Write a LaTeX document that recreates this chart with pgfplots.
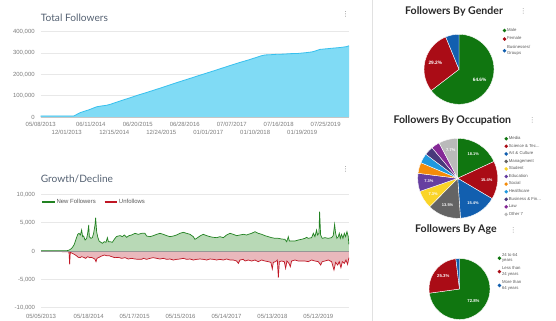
\documentclass[border=0pt]{standalone}
\usepackage{pgfplots}
\pgfplotsset{compat=1.18}
\usepackage{pgfplotstable}
\usepackage{fontspec}
\setmainfont{Liberation Sans}
\newfontfamily\latofont{Lato}
\newfontfamily\symfont{DejaVu Sans}

\definecolor{tfill}{RGB}{128,219,245}
\definecolor{tline}{RGB}{55,192,238}
\definecolor{gline}{RGB}{34,130,34}
\definecolor{gfill}{RGB}{184,217,182}
\definecolor{rline}{RGB}{192,22,36}
\definecolor{rfill}{RGB}{233,184,188}
\definecolor{gridc}{RGB}{232,232,232}
\definecolor{zeroc}{RGB}{150,150,150}
\definecolor{ticktext}{RGB}{125,125,125}
\definecolor{titlec}{RGB}{85,98,115}
\definecolor{legtext}{RGB}{90,90,90}
\definecolor{sepc}{RGB}{225,225,225}
\definecolor{piet}{RGB}{40,40,40}
\definecolor{pgreen}{RGB}{16,118,16}
\definecolor{pred}{RGB}{170,12,22}
\definecolor{pblue}{RGB}{18,95,175}
\definecolor{pgray}{RGB}{100,100,100}
\definecolor{pyellow}{RGB}{250,212,40}
\definecolor{ppurple}{RGB}{102,62,160}
\definecolor{porange}{RGB}{245,140,10}
\definecolor{plblue}{RGB}{30,152,222}
\definecolor{pnavy}{RGB}{72,56,122}
\definecolor{pmag}{RGB}{132,40,150}
\definecolor{plgray}{RGB}{186,186,186}

\pgfplotstableread{
day total
3 5000
268 5000
290 12000
316 20000
350 27000
383 33000
410 39000
436 45000
449 48000
490 52000
528 55000
560 60000
595 67000
650 78000
714 90000
780 103000
847 115000
910 127000
979 140000
1050 154000
1112 166000
1192 181000
1271 196000
1325 206000
1400 220000
1457 231000
1520 243000
1590 256000
1660 268000
1723 280000
1760 287000
1789 291000
1830 292000
1882 294000
1940 295000
1988 297000
2050 298000
2121 302000
2160 305000
2187 309000
2205 313000
2227 317000
2280 320000
2333 323000
2390 326000
2439 330000
2458 334000
}\totaltable

\pgfplotstableread{
day new
0 60
100 60
180 50
205 60
217 118
230 250
243 470
254 800
264 1176
280 2235
291 2941
301 3118
312 2824
322 3706
330 2529
338 2647
349 1941
362 2235
370 3118
378 4588
383 2529
396 2235
407 2353
417 3118
428 4588
433 5882
441 3412
449 2529
460 1765
475 1529
486 1353
502 1647
515 1529
526 2353
534 1647
547 1647
565 1529
581 2059
597 2529
613 2647
629 2706
644 2529
660 2824
679 2412
697 2706
718 2824
745 3118
771 2941
798 3118
824 3118
837 2647
864 2529
890 2706
917 2941
943 3118
969 2941
996 2706
1022 2529
1049 2647
1075 2824
1101 3118
1128 3294
1154 3118
1181 2941
1207 2529
1220 2059
1233 2235
1260 2647
1286 2941
1313 2706
1339 2529
1366 2412
1392 2353
1418 2529
1445 2353
1471 2824
1498 3118
1524 2941
1550 2706
1577 2824
1603 2941
1630 2824
1643 2941
1669 3118
1696 3412
1722 3118
1749 2941
1775 2706
1801 2529
1828 2353
1854 2235
1881 2235
1907 2118
1933 2059
1947 1647
1960 2529
1968 1765
1986 1765
2013 1765
2039 1941
2065 2059
2092 2235
2105 2412
2118 2235
2145 2353
2158 3118
2171 2529
2184 3706
2192 2824
2203 3118
2208 6941
2216 2824
2229 2235
2250 2353
2277 2235
2303 2353
2316 2706
2327 4706
2335 3118
2345 2235
2356 2529
2364 3118
2372 2235
2382 2941
2393 2235
2404 3118
2414 2529
2425 3412
2435 2529
2440 1176
}\newtable

\pgfplotstableread{
day unf
0 -100
212 -118
222 -200
227 -2353
232 -235
248 -412
264 -588
280 -824
296 -1118
309 -1176
322 -1000
338 -1118
354 -1294
370 -1000
386 -1176
401 -1118
417 -1294
428 -1471
436 -1882
444 -1294
460 -1118
481 -882
502 -706
520 -824
539 -824
560 -1000
586 -1176
613 -1118
639 -1294
666 -1176
692 -1412
718 -1294
745 -1412
771 -1471
798 -1471
811 -1294
837 -1471
864 -1294
890 -1176
917 -1294
943 -1412
969 -1294
996 -1471
1022 -1412
1049 -1588
1075 -1471
1101 -1412
1128 -1294
1154 -1471
1181 -1412
1207 -1588
1233 -1471
1260 -1412
1286 -1471
1313 -1588
1339 -1412
1366 -1471
1392 -1588
1418 -1471
1445 -1588
1471 -1412
1498 -1588
1524 -1588
1550 -1765
1564 -2176
1577 -1588
1603 -1471
1617 -1765
1643 -1588
1669 -1765
1696 -1588
1722 -1882
1749 -1588
1775 -1765
1801 -1882
1822 -2000
1833 -3176
1841 -2000
1859 -1882
1873 -1588
1881 -4706
1889 -1882
1907 -1765
1928 -1882
1939 -3059
1949 -1765
1965 -2176
1976 -2765
1986 -1765
2013 -1588
2039 -1765
2065 -1765
2092 -1765
2118 -1882
2145 -1588
2171 -1765
2198 -1882
2216 -2471
2229 -1882
2250 -1765
2277 -1588
2303 -1882
2322 -3353
2335 -2000
2351 -2471
2364 -1882
2377 -2941
2388 -1882
2404 -2176
2417 -1588
2430 -2353
2440 -1176
}\unftable

\pgfplotsset{
  pielegend/.style={
    legend style={anchor=north west, draw=none, fill=none,
      font=\fontsize{4.3}{5.4}\selectfont, text=legtext, inner sep=0pt,
      row sep=1.2bp, cells={anchor=west}, nodes={inner sep=0.7bp}},
    legend image code/.code={\fill[##1, draw=none] (1bp,0bp) circle (1.9bp);},
  },
}

\begin{document}
\begin{tikzpicture}
\path[use as bounding box, fill=white] (0bp,0bp) rectangle (556bp,-321bp);
\draw[sepc, line width=0.8bp] (372bp,0bp) -- (372bp,-321bp);

% ---------- Total Followers ----------
\node[anchor=west, inner sep=0pt, text=titlec, font=\latofont\fontsize{10.2}{12}\selectfont] at (40.7bp,-17.3bp) {Total Followers};
\node[inner sep=0pt, text=gray, font=\symfont\fontsize{7}{8}\selectfont] at (345.5bp,-14bp) {⋮};
\begin{axis}[
  at={(40.7bp,-117bp)}, anchor=south west, scale only axis,
  width=308.3bp, height=85.3bp,
  xmin=3, xmax=2458, ymin=0, ymax=400000,
  axis line style={draw=none}, major tick length=0pt,
  ymajorgrids, grid style={gridc, line width=0.6bp},
  ytick={0,100000,200000,300000,400000},
  yticklabels={{0},{100,000},{200,000},{300,000},{400,000}},
  xtick={3,402,776,1150,1524,1898,2272},
  xticklabels={05/08/2013,06/11/2014,06/20/2015,06/28/2016,07/07/2017,07/16/2018,07/25/2019},
  extra x ticks={210,589,963,1337,1711,2085},
  extra x tick labels={12/01/2013,12/15/2014,12/24/2015,01/01/2017,01/10/2018,01/19/2019},
  extra x tick style={major tick length=0pt, xticklabel style={yshift=-8.4bp}},
  tick label style={font=\fontsize{6}{7}\selectfont, text=ticktext},
  yticklabel style={xshift=-2.5bp},
  xticklabel style={yshift=-1.5bp},
  scaled y ticks=false,
]
\addplot[draw=none, fill=tfill] table[x=day, y=total] {\totaltable} \closedcycle;
\addplot[tline, line width=0.8bp] table[x=day, y=total] {\totaltable};
\draw[gray!45, line width=0.7bp] (rel axis cs:0,0) -- (rel axis cs:1,0);
\end{axis}

% ---------- Growth / Decline ----------
\node[anchor=west, inner sep=0pt, text=titlec, font=\latofont\fontsize{10.2}{12}\selectfont] at (40.7bp,-179.3bp) {Growth/Decline};
\node[inner sep=0pt, text=gray, font=\symfont\fontsize{7}{8}\selectfont] at (345.5bp,-169bp) {⋮};
\begin{axis}[
  at={(41bp,-307.7bp)}, anchor=south west, scale only axis,
  width=308bp, height=113.4bp,
  xmin=0, xmax=2441, ymin=-10000, ymax=10000,
  axis line style={draw=none}, major tick length=0pt,
  ymajorgrids, grid style={gridc, line width=0.6bp},
  ytick={-10000,-5000,0,5000,10000},
  yticklabels={{-10,000},{-5,000},{0},{5,000},{10,000}},
  xtick={0,378,742,1106,1470,1834,2198},
  xticklabels={05/05/2013,05/18/2014,05/17/2015,05/15/2016,05/14/2017,05/13/2018,05/12/2019},
  tick label style={font=\fontsize{6}{7}\selectfont, text=ticktext},
  yticklabel style={xshift=-2.5bp},
  xticklabel style={yshift=-2.5bp},
  scaled y ticks=false,
  legend style={at={(0,0.967)}, anchor=north west, draw=none, fill=none,
    font=\fontsize{6}{7}\selectfont, text=legtext, inner sep=0pt,
    nodes={inner sep=0.8bp}, /tikz/every even column/.append style={column sep=7bp}},
  legend columns=2,
  legend image code/.code={\draw[#1, line width=2bp] (0bp,0bp) -- (12.6bp,0bp);},
]
\addplot[draw=none, fill=gfill, forget plot] table[x=day, y=new] {\newtable} \closedcycle;
\addplot[draw=none, fill=rfill, forget plot] table[x=day, y=unf] {\unftable} \closedcycle;
\addplot[gline, line width=0.7bp] table[x=day, y=new] {\newtable};
\addlegendentry{New Followers}
\addplot[rline, line width=0.7bp] table[x=day, y=unf] {\unftable};
\addlegendentry{Unfollows}
\draw[zeroc, line width=0.6bp] (axis cs:0,0) -- (axis cs:2441,0);
\end{axis}

% ---------- Followers By Gender ----------
\node[anchor=west, inner sep=0pt, text=piet, font=\latofont\bfseries\fontsize{10.6}{12}\selectfont] at (405bp,-11.7bp) {Followers By Gender};
\node[inner sep=0pt, text=gray!80, font=\symfont\fontsize{7}{8}\selectfont] at (523.3bp,-11.7bp) {⋮};
\begin{axis}[
  at={(459bp,-69.3bp)}, anchor=center, scale only axis,
  width=70bp, height=70bp, xmin=-1, xmax=1, ymin=-1, ymax=1, hide axis,
  pielegend, legend style={at={(1.12,1.1)}, row sep=2.6bp},
]
\addlegendimage{color=pgreen, fill=pgreen}\addlegendentry{Male}
\addlegendimage{color=pred, fill=pred}\addlegendentry{Female}
\addlegendimage{color=pblue, fill=pblue}\addlegendentry{\shortstack[l]{Businesses/\\Groups}}
\fill[pgreen, draw=white, line width=0.4bp] (axis cs:0,0) -- ++(90:35bp) arc[start angle=90, end angle={90-3.6*64.6}, radius=35bp] -- cycle;
\fill[pred, draw=white, line width=0.4bp] (axis cs:0,0) -- ++({90-3.6*64.6}:35bp) arc[start angle={90-3.6*64.6}, end angle={90-3.6*(64.6+29.2)}, radius=35bp] -- cycle;
\fill[pblue, draw=white, line width=0.4bp] (axis cs:0,0) -- ++({90-3.6*93.8}:35bp) arc[start angle={90-3.6*93.8}, end angle={90-3.6*100}, radius=35bp] -- cycle;
\path (axis cs:0,0) ++({90-3.6*32.3}:23bp) node[text=white, font=\bfseries\fontsize{4.8}{5}\selectfont] {64.6\%};
\path (axis cs:0,0) ++({90-3.6*79.2}:24.5bp) node[text=white, font=\bfseries\fontsize{4.8}{5}\selectfont] {29.2\%};
\end{axis}

% ---------- Followers By Occupation ----------
\node[anchor=west, inner sep=0pt, text=piet, font=\latofont\bfseries\fontsize{10.6}{12}\selectfont] at (393.3bp,-120.7bp) {Followers By Occupation};
\node[inner sep=0pt, text=gray!80, font=\symfont\fontsize{7}{8}\selectfont] at (532.3bp,-120.7bp) {⋮};
\begin{axis}[
  at={(457.7bp,-178.3bp)}, anchor=center, scale only axis,
  width=80bp, height=80bp, xmin=-1, xmax=1, ymin=-1, ymax=1, hide axis,
  pielegend, legend style={at={(1.08,1.035)}, row sep=1.6bp},
]
\addlegendimage{color=pgreen, fill=pgreen}\addlegendentry{Media}
\addlegendimage{color=pred, fill=pred}\addlegendentry{Science \& Tec...}
\addlegendimage{color=pblue, fill=pblue}\addlegendentry{Art \& Culture}
\addlegendimage{color=pgray, fill=pgray}\addlegendentry{Management}
\addlegendimage{color=pyellow, fill=pyellow}\addlegendentry{Student}
\addlegendimage{color=ppurple, fill=ppurple}\addlegendentry{Education}
\addlegendimage{color=porange, fill=porange}\addlegendentry{Social}
\addlegendimage{color=plblue, fill=plblue}\addlegendentry{Healthcare}
\addlegendimage{color=pnavy, fill=pnavy}\addlegendentry{Business \& Fin...}
\addlegendimage{color=pmag, fill=pmag}\addlegendentry{Law}
\addlegendimage{color=plgray, fill=plgray}\addlegendentry{Other 7}
\fill[pgreen, draw=white, line width=0.4bp] (axis cs:0,0) -- ++({90-3.6*0}:40bp) arc[start angle={90-3.6*0}, end angle={90-3.6*18.1}, radius=40bp] -- cycle;
\fill[pred, draw=white, line width=0.4bp] (axis cs:0,0) -- ++({90-3.6*18.1}:40bp) arc[start angle={90-3.6*18.1}, end angle={90-3.6*33.5}, radius=40bp] -- cycle;
\fill[pblue, draw=white, line width=0.4bp] (axis cs:0,0) -- ++({90-3.6*33.5}:40bp) arc[start angle={90-3.6*33.5}, end angle={90-3.6*48.9}, radius=40bp] -- cycle;
\fill[pgray, draw=white, line width=0.4bp] (axis cs:0,0) -- ++({90-3.6*48.9}:40bp) arc[start angle={90-3.6*48.9}, end angle={90-3.6*62.4}, radius=40bp] -- cycle;
\fill[pyellow, draw=white, line width=0.4bp] (axis cs:0,0) -- ++({90-3.6*62.4}:40bp) arc[start angle={90-3.6*62.4}, end angle={90-3.6*69.7}, radius=40bp] -- cycle;
\fill[ppurple, draw=white, line width=0.4bp] (axis cs:0,0) -- ++({90-3.6*69.7}:40bp) arc[start angle={90-3.6*69.7}, end angle={90-3.6*77.0}, radius=40bp] -- cycle;
\fill[porange, draw=white, line width=0.4bp] (axis cs:0,0) -- ++({90-3.6*77.0}:40bp) arc[start angle={90-3.6*77.0}, end angle={90-3.6*81.4}, radius=40bp] -- cycle;
\fill[plblue, draw=white, line width=0.4bp] (axis cs:0,0) -- ++({90-3.6*81.4}:40bp) arc[start angle={90-3.6*81.4}, end angle={90-3.6*85.3}, radius=40bp] -- cycle;
\fill[pnavy, draw=white, line width=0.4bp] (axis cs:0,0) -- ++({90-3.6*85.3}:40bp) arc[start angle={90-3.6*85.3}, end angle={90-3.6*88.9}, radius=40bp] -- cycle;
\fill[pmag, draw=white, line width=0.4bp] (axis cs:0,0) -- ++({90-3.6*88.9}:40bp) arc[start angle={90-3.6*88.9}, end angle={90-3.6*92.3}, radius=40bp] -- cycle;
\fill[plgray, draw=white, line width=0.4bp] (axis cs:0,0) -- ++({90-3.6*92.3}:40bp) arc[start angle={90-3.6*92.3}, end angle={90-3.6*100}, radius=40bp] -- cycle;
\path (axis cs:0,0) ++({90-3.6*9.05}:29bp) node[text=white, font=\bfseries\fontsize{4}{5}\selectfont] {18.1\%};
\path (axis cs:0,0) ++({90-3.6*25.8}:29bp) node[text=white, font=\bfseries\fontsize{4}{5}\selectfont] {15.4\%};
\path (axis cs:0,0) ++({90-3.6*41.2}:29bp) node[text=white, font=\bfseries\fontsize{4}{5}\selectfont] {15.4\%};
\path (axis cs:0,0) ++({90-3.6*55.65}:29bp) node[text=white, font=\bfseries\fontsize{4}{5}\selectfont] {13.5\%};
\path (axis cs:0,0) ++({90-3.6*66.05}:29bp) node[text=white, font=\bfseries\fontsize{4}{5}\selectfont] {7.3\%};
\path (axis cs:0,0) ++({90-3.6*73.35}:29bp) node[text=white, font=\bfseries\fontsize{4}{5}\selectfont] {7.3\%};
\path (axis cs:0,0) ++({90-3.6*96.15}:29bp) node[text=white, font=\bfseries\fontsize{4}{5}\selectfont] {7.7\%};
\end{axis}

% ---------- Followers By Age ----------
\node[anchor=west, inner sep=0pt, text=piet, font=\latofont\bfseries\fontsize{10.6}{12}\selectfont] at (415bp,-230bp) {Followers By Age};
\node[inner sep=0pt, text=gray!80, font=\symfont\fontsize{7}{8}\selectfont] at (513.3bp,-230bp) {⋮};
\begin{axis}[
  at={(459.5bp,-289bp)}, anchor=center, scale only axis,
  width=61bp, height=61bp, xmin=-1, xmax=1, ymin=-1, ymax=1, hide axis,
  pielegend, legend style={at={(1.12,1.1)}, row sep=1.8bp},
]
\addlegendimage{color=pgreen, fill=pgreen}\addlegendentry{\shortstack[l]{24 to 64\\years}}
\addlegendimage{color=pred, fill=pred}\addlegendentry{\shortstack[l]{Less than\\24 years}}
\addlegendimage{color=pblue, fill=pblue}\addlegendentry{\shortstack[l]{More than\\64 years}}
\fill[pgreen, draw=white, line width=0.4bp] (axis cs:0,0) -- ++(90:30.5bp) arc[start angle=90, end angle={90-3.6*72.8}, radius=30.5bp] -- cycle;
\fill[pred, draw=white, line width=0.4bp] (axis cs:0,0) -- ++({90-3.6*72.8}:30.5bp) arc[start angle={90-3.6*72.8}, end angle={90-3.6*98.1}, radius=30.5bp] -- cycle;
\fill[pblue, draw=white, line width=0.4bp] (axis cs:0,0) -- ++({90-3.6*98.1}:30.5bp) arc[start angle={90-3.6*98.1}, end angle={90-3.6*100}, radius=30.5bp] -- cycle;
\path (axis cs:0,0) ++({90-3.6*36.4}:18.5bp) node[text=white, font=\bfseries\fontsize{4.3}{5}\selectfont] {72.8\%};
\path (axis cs:0,0) ++({90-3.6*85.45}:20.5bp) node[text=white, font=\bfseries\fontsize{4.3}{5}\selectfont] {25.3\%};
\end{axis}
\end{tikzpicture}
\end{document}
